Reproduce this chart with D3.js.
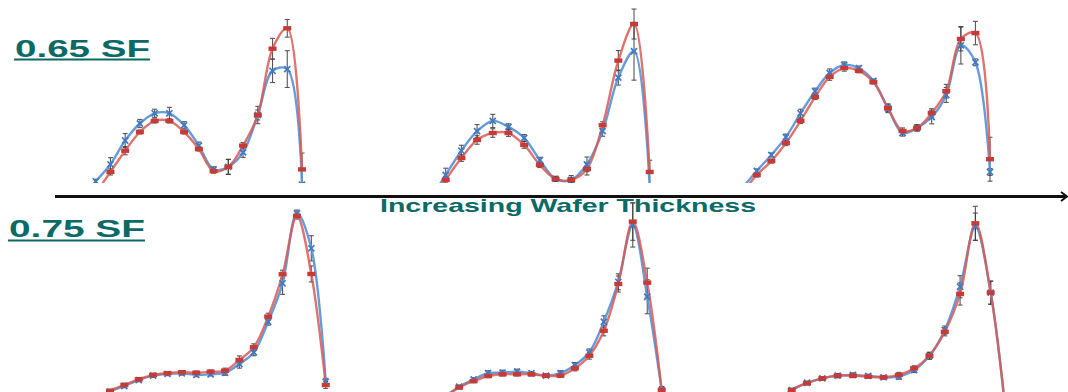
<!DOCTYPE html>
<html>
<head>
<meta charset="utf-8">
<script src="https://cdn.jsdelivr.net/npm/d3@7"></script>
<style>
  html, body { margin: 0; padding: 0; background: #fff; }
  svg { display: block; }
</style>
</head>
<body>
<svg id="chart" width="1068" height="392"></svg>
<script>
// ---- Measured profiles (relative intensity) ----
// 0.65 SF, thin wafer
const sf65ThinBlue   = [1, 11, 25, 35, 41, 41, 34, 22, 8, 9.5, 18, 40, 66, 67, -1];
const sf65ThinRed    = [-6, 6.5, 19, 30, 36.5, 36.5, 30, 20, 7, 9.5, 22, 40, 79, 91, 8];
const sf65ThinBlueErr = [1.2, 3.9, 4.1, 2.4, 2.4, 3.5, 2.1, 2.1, 1.5, 4.4, 2.9, 5.1, 6.9, 10.8, 1.2];
const sf65ThinRedErr  = [1.2, 1.8, 2.4, 1.2, 1.2, 1.2, 1.2, 1.2, 1.2, 4.4, 1.8, 2.9, 6.1, 5.2, 9.6];
// 0.65 SF, medium wafer
const sf65MidBlue    = [-10, 4.7, 19, 30.5, 36.5, 33, 26.5, 13.5, 2.4, 1.8, 11, 30.5, 62, 77.5, -2.5];
const sf65MidRed     = [-13, 1.8, 14.7, 25.3, 29.4, 29.4, 22.4, 10.6, 2.4, 1.8, 8.2, 34, 72, 93.5, 6.5];
const sf65MidBlueErr = [1, 4, 3.2, 3.9, 3.9, 1.8, 2, 1.6, 1.5, 2.6, 4.3, 3, 4.4, 17, 2];
const sf65MidRedErr  = [1, 2, 2, 2.5, 2.5, 2, 2, 1.5, 1.5, 1.5, 3.5, 2, 5.9, 8.8, 6.9];
// 0.65 SF, thick wafer
const sf65ThickBlue  = [-3, 7.1, 16.5, 27, 41, 54, 64.7, 69.4, 67.6, 60, 44, 29.4, 32.4, 38.8, 51.8, 81, 71, 6.5];
const sf65ThickRed   = [-6, 4.7, 12.9, 23.5, 36.5, 50.6, 62.4, 67.6, 66, 59.4, 44, 30.6, 32.4, 41.2, 54, 84.7, 88.2, 14];
const sf65ThickBlueErr = [1, 1.2, 1.2, 1.8, 2.4, 1.8, 2.4, 1.8, 1.2, 1.2, 2.6, 1.8, 1.8, 4, 4.4, 11, 2, 2];
const sf65ThickRedErr  = [1, 1.2, 1.2, 1.5, 1.5, 1.5, 2, 1.8, 1.2, 1.2, 2, 1.8, 1.8, 2.5, 4, 7, 6.9, 12.9];
// 0.75 SF, thin wafer
const sf75ThinBlue   = [-5, 1.9, 5.3, 8.8, 11.4, 12.4, 12.7, 11.8, 12.2, 13.1, 18.2, 25.1, 43.1, 65.7, 107, 86.3, 7.8];
const sf75ThinRed    = [-5, 2.4, 5.9, 9.2, 11.8, 12.8, 13.4, 13.1, 13.7, 14.3, 20.6, 28.1, 46.1, 71, 105.3, 71.2, 5.9];
const sf75ThinBlueErr = [1, 1, 1, 1, 1, 1, 1, 1, 1, 1.5, 2.4, 2, 2, 6.5, 1.8, 7.4, 2];
const sf75ThinRedErr  = [1, 1, 1, 1, 1, 1, 1, 1, 1, 1.5, 2.4, 2, 2, 2.4, 1.8, 4.7, 2];
// 0.75 SF, medium wafer
const sf75MidBlue    = [-1, 4.9, 9.2, 12.8, 13.1, 13.7, 12.8, 11.4, 12.8, 17.6, 25.1, 43.1, 66.6, 100, 57.8, 2.9];
const sf75MidRed     = [-1.5, 4.5, 8.2, 11.2, 12.2, 12.2, 12.2, 11.4, 11.4, 15.7, 23.1, 37.8, 65.3, 102, 66.1, 2.9];
const sf75MidBlueErr = [1, 1, 1, 1.5, 1.5, 1.5, 1, 1, 1.5, 1.5, 2, 3.5, 4.7, 13, 10, 2];
const sf75MidRedErr  = [1, 1, 1, 1, 1, 1, 1, 1, 1, 1.5, 2, 3, 4.7, 11, 8.5, 2];
// 0.75 SF, thick wafer
const sf75ThickBlue  = [-5, 2.9, 7.2, 9.8, 11.4, 11.8, 11.2, 10.4, 10.8, 14.7, 23.1, 38.2, 63.7, 99, 60.2, -12];
const sf75ThickRed   = [-5, 2.9, 6.9, 9.8, 11.4, 11.4, 10.8, 10.4, 11.8, 15.7, 23.1, 37.2, 59.4, 101, 60.2, -12];
const sf75ThickBlueErr = [1, 1, 1, 1, 1.2, 1.2, 1, 1, 1.5, 1.5, 2, 2.4, 6.5, 8, 6.8, 1];
const sf75ThickRedErr  = [1, 1, 1, 1, 1.2, 1.2, 1, 1, 1.5, 1.5, 2, 2.4, 6.5, 10, 6.8, 1];

const rowLabels = ["0.65 SF", "0.75 SF"];
const axisLabel = "Increasing Wafer Thickness";

// ---- Panel layout (pixel frames for each small plot) ----
const panels = [
  { blue: sf65ThinBlue,  red: sf65ThinRed,  be: sf65ThinBlueErr,  re: sf65ThinRedErr,  x0: 95.7,  x1: 302,   base: 183 },
  { blue: sf65MidBlue,   red: sf65MidRed,   be: sf65MidBlueErr,   re: sf65MidRedErr,   x0: 430,   x1: 649.7, base: 183 },
  { blue: sf65ThickBlue, red: sf65ThickRed, be: sf65ThickBlueErr, re: sf65ThickRedErr, x0: 742.2, x1: 990,   base: 183 },
  { blue: sf75ThinBlue,  red: sf75ThinRed,  be: sf75ThinBlueErr,  re: sf75ThinRedErr,  x0: 95.6,  x1: 325.7, base: 395 },
  { blue: sf75MidBlue,   red: sf75MidRed,   be: sf75MidBlueErr,   re: sf75MidRedErr,   x0: 444.7, x1: 661.7, base: 395 },
  { blue: sf75ThickBlue, red: sf75ThickRed, be: sf75ThickBlueErr, re: sf75ThickRedErr, x0: 776.4, x1: 1006,  base: 395 }
];

const BLUE = "#5590d8", BLUE_MK = "#3f78c4";
const RED = "#d85a56",  RED_MK = "#c83a36";
const ERR = "#3a3a3a";
const TEAL = "#0b6a66";

const svg = d3.select("#chart");
const defs = svg.append("defs");

panels.forEach((p, i) => {
  const n = p.blue.length;
  const x = d3.scaleLinear().domain([0, n - 1]).range([p.x0, p.x1]);
  const y = d3.scaleLinear().domain([0, 100]).range([p.base, p.base - 170]);

  // clip each plot to its own frame (the traces run off the bottom edge)
  const clipBottom = p.base === 183 ? 183 : 392;
  const clipTop = p.base === 183 ? 0 : 200;
  defs.append("clipPath").attr("id", "clip" + i)
    .append("rect")
    .attr("x", p.x0 - 20).attr("y", clipTop)
    .attr("width", p.x1 - p.x0 + 40).attr("height", clipBottom - clipTop);

  const g = svg.append("g").attr("clip-path", `url(#clip${i})`);

  const line = d3.line()
    .x((d, j) => x(j))
    .y(d => y(d))
    .curve(d3.curveCatmullRom.alpha(0.5));

  // error bars
  const drawErr = (vals, errs) => {
    const eg = g.append("g").attr("stroke", ERR).attr("stroke-width", 1.1).attr("opacity", 0.85);
    vals.forEach((v, j) => {
      const xx = x(j), yTop = y(v + errs[j]), yBot = y(v - errs[j]);
      eg.append("line").attr("x1", xx).attr("x2", xx).attr("y1", yTop).attr("y2", yBot);
      eg.append("line").attr("x1", xx - 2.5).attr("x2", xx + 2.5).attr("y1", yTop).attr("y2", yTop);
      eg.append("line").attr("x1", xx - 2.5).attr("x2", xx + 2.5).attr("y1", yBot).attr("y2", yBot);
    });
  };
  drawErr(p.blue, p.be);
  drawErr(p.red, p.re);

  // smoothed traces
  g.append("path").datum(p.blue).attr("d", line)
    .attr("fill", "none").attr("stroke", BLUE).attr("stroke-width", 2.4).attr("opacity", 0.9);
  g.append("path").datum(p.red).attr("d", line)
    .attr("fill", "none").attr("stroke", RED).attr("stroke-width", 2.4).attr("opacity", 0.85);

  // blue cross markers
  const cross = d3.symbol().type(d3.symbolTimes).size(26);
  g.append("g").selectAll("path").data(p.blue).join("path")
    .attr("d", cross)
    .attr("transform", (d, j) => `translate(${x(j)},${y(d)})`)
    .attr("fill", "none").attr("stroke", BLUE_MK).attr("stroke-width", 1.7);

  // red bar markers
  g.append("g").selectAll("rect").data(p.red).join("rect")
    .attr("x", (d, j) => x(j) - 4)
    .attr("y", d => y(d) - 2.2)
    .attr("width", 8).attr("height", 4.4)
    .attr("fill", RED_MK);
});

// ---- Thickness arrow between the two rows ----
svg.append("line")
  .attr("x1", 55).attr("x2", 1066).attr("y1", 196.5).attr("y2", 196.5)
  .attr("stroke", "#111").attr("stroke-width", 2.8);
svg.append("path")
  .attr("d", "M1061,192 L1067,196.5 L1061,201")
  .attr("fill", "none").attr("stroke", "#111").attr("stroke-width", 2);

svg.append("text")
  .attr("x", 380).attr("y", 212)
  .attr("font-family", "Liberation Sans, Arial, sans-serif")
  .attr("font-weight", "bold").attr("font-size", 18.5)
  .attr("textLength", 376).attr("lengthAdjust", "spacingAndGlyphs")
  .attr("fill", TEAL)
  .text(axisLabel);

// ---- Row labels with underline ----
const rowLabelPos = [
  { x: 15, y: 57, w: 135, uy: 59.6 },
  { x: 9,  y: 236.5, w: 136, uy: 240.6 }
];
rowLabels.forEach((t, i) => {
  const r = rowLabelPos[i];
  svg.append("text")
    .attr("x", r.x).attr("y", r.y)
    .attr("font-family", "Liberation Sans, Arial, sans-serif")
    .attr("font-weight", "bold").attr("font-size", 24.5)
    .attr("textLength", r.w).attr("lengthAdjust", "spacingAndGlyphs")
    .attr("fill", TEAL)
    .text(t);
  svg.append("line")
    .attr("x1", r.x - 1).attr("x2", r.x + r.w).attr("y1", r.uy).attr("y2", r.uy)
    .attr("stroke", TEAL).attr("stroke-width", 2);
});
</script>
</body>
</html>
